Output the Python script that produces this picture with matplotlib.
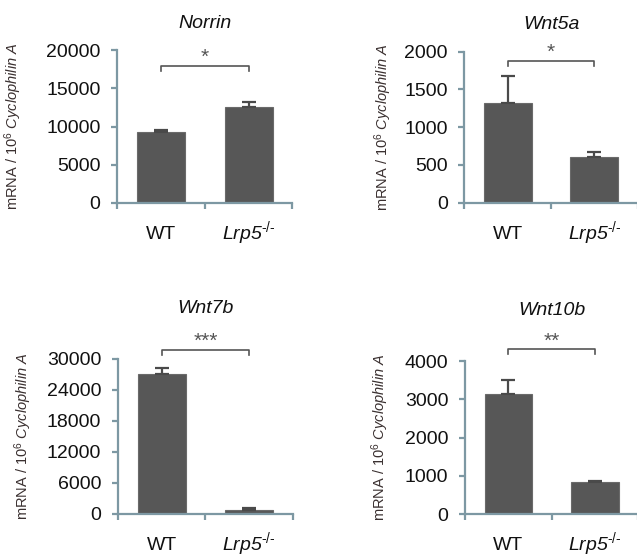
import matplotlib
matplotlib.use("Agg")
import matplotlib.pyplot as plt
import numpy as np

plt.rcParams['font.family'] = ['Liberation Sans', 'DejaVu Sans']
plt.rcParams['mathtext.fontset'] = 'custom'
plt.rcParams['mathtext.rm'] = 'Liberation Sans'
plt.rcParams['mathtext.it'] = 'Liberation Sans:italic'

# data
genes = ['Norrin', 'Wnt5a', 'Wnt7b', 'Wnt10b']
groups = ['WT', 'Lrp5$^{\\mathit{\u2010/\u2010}}$']
wt_mean = [9300, 1325, 27000, 3150]
wt_err = [200, 345, 1220, 350]
ko_mean = [12550, 600, 750, 845]
ko_err = [620, 75, 250, 15]
stars = ['*', '*', '***', '**']
y_max = [20000, 2000, 30000, 4000]
y_step = [5000, 500, 6000, 1000]

axis_color = '#7d98a3'
bar_color = '#575757'

fig = plt.figure(figsize=(6.37, 5.60), dpi=100)
positions = [
    [0.184, 0.638, 0.275, 0.272],
    [0.729, 0.638, 0.272, 0.270],
    [0.185, 0.083, 0.275, 0.276],
    [0.730, 0.082, 0.272, 0.273],
]
title_pad = [16, 16, 33, 33]
label_x = [-0.53, -0.405, -0.48, -0.43]
bracket_frac = [0.90, 0.94, 1.06, 1.08]

for i, gene in enumerate(genes):
    ax = fig.add_axes(positions[i])
    x = np.arange(2)
    means = [wt_mean[i], ko_mean[i]]
    errs = [wt_err[i], ko_err[i]]
    ax.bar(x, means, 0.55, color=bar_color, edgecolor='#6a6a6a', linewidth=0.8, zorder=2)
    ax.errorbar(x, means, yerr=[[0, 0], errs], fmt='none', ecolor='#4a4a4a',
                elinewidth=1.6, capsize=5, capthick=1.6, zorder=3)

    ax.set_xlim(-0.5, 1.5)
    ax.set_ylim(0, y_max[i])
    ax.set_yticks(np.arange(0, y_max[i] + 1, y_step[i]))
    ax.set_xticks(x)
    ax.set_xticklabels(groups)
    ax.set_xticks([-0.5, 0.5, 1.5], minor=True)

    for s in ['top', 'right']:
        ax.spines[s].set_visible(False)
    for s in ['left', 'bottom']:
        ax.spines[s].set_color(axis_color)
        ax.spines[s].set_linewidth(1.6)

    ax.tick_params(axis='y', colors=axis_color, labelcolor='#111111', length=4, width=1.6,
                   labelsize=14, pad=8)
    ax.tick_params(axis='x', which='major', length=0, labelsize=14, labelcolor='#111111', pad=26)
    ax.tick_params(axis='x', which='minor', length=4, width=1.6, color=axis_color)
    for lab in ax.get_xticklabels():
        lab.set_verticalalignment('baseline')
    ax.get_xticklabels()[1].set_fontstyle('italic')

    ax.set_ylabel(r'mRNA / 10$^{6}$ $\it{Cyclophilin\ A}$', fontsize=10.5, color='#3a3030')
    ax.yaxis.set_label_coords(label_x[i], 0.5)
    ax.set_title(gene, style='italic', fontsize=14, pad=title_pad[i], color='#111111')

    # significance bracket
    by = bracket_frac[i] * y_max[i]
    tick = 0.035 * y_max[i]
    ax.plot([0, 0, 1, 1], [by - tick, by, by, by - tick], color='#555555', lw=1.2,
            clip_on=False)
    ax.text(0.5, by - 0.01 * y_max[i], stars[i], ha='center', va='bottom', fontsize=15,
            color='#555555')

fig.savefig('out.png', dpi=100, facecolor='white')
